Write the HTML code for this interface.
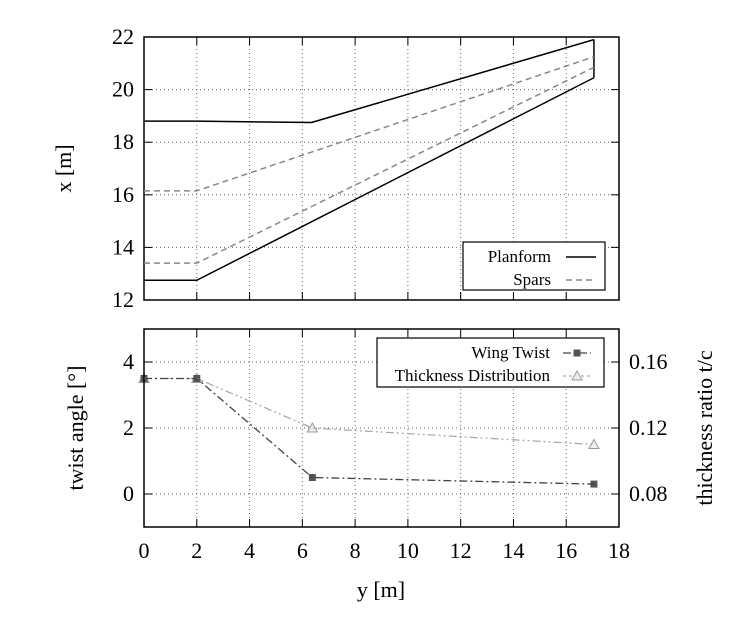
<!DOCTYPE html>
<html><head><meta charset="utf-8"><style>
body{margin:0;background:#fff;}
svg{display:block;font-family:"Liberation Serif",serif;}
</style></head><body>
<svg id="c" width="744" height="625" viewBox="0 0 744 625"></svg>
<script>
const xTicks=[0,2,4,6,8,10,12,14,16,18];
const topYTicks=[12,14,16,18,20,22];
const botYTicks=[0,2,4];
const rightTicks=[0.08,0.12,0.16];
const rightTickLabels=["0.08","0.12","0.16"];
const planformUpperY=[0,2,6.35,17.05];
const planformUpperX=[18.8,18.8,18.75,21.9];
const planformLowerY=[0,2,17.05];
const planformLowerX=[12.75,12.75,20.45];
const frontSparY=[0,2,17.05];
const frontSparX=[13.4,13.4,20.85];
const rearSparY=[0,2,17.05];
const rearSparX=[16.15,16.15,21.25];
const twistY=[0,2,6.38,17.05];
const twistVals=[3.5,3.5,0.5,0.3];
const thickY=[0,2,6.38,17.05];
const thickVals=[0.15,0.15,0.12,0.11];

const NS="http://www.w3.org/2000/svg";
const svg=document.getElementById('c');
const L=144,R=619;
const sx=v=>L+(v-0)/(18-0)*(R-L);
const T1=37,B1=300;
const sy1=v=>B1-(v-12)/(22-12)*(B1-T1);
const T2=329,B2=527;
const sy2=v=>B2-(v+1)/(5+1)*(B2-T2);
const syR=v=>sy2((v-0.08)/0.02);
function el(tag,attrs,parent){const e=document.createElementNS(NS,tag);for(const k in attrs)e.setAttribute(k,attrs[k]);(parent||svg).appendChild(e);return e;}
function txt(s,x,y,anchor,size,parent,rot){const t=el('text',{x:x,y:y,'text-anchor':anchor,'font-size':size,fill:'#000'},parent);if(rot)t.setAttribute('transform',rot);t.textContent=s;return t;}
function poly(xs,ys,fx,fy,style){return el('polyline',Object.assign({points:xs.map((v,i)=>fx(v)+','+fy(ys[i])).join(' '),fill:'none'},style));}

// top panel
const g1=el('g',{});


xTicks.forEach(v=>{if(v>0&&v<18)el('line',{x1:sx(v),x2:sx(v),y1:T1,y2:B1,stroke:'#666','stroke-dasharray':'1,3','stroke-width':1},g1);
 el('line',{x1:sx(v),x2:sx(v),y1:T1,y2:T1+8,stroke:'#000'},g1);el('line',{x1:sx(v),x2:sx(v),y1:B1,y2:B1-8,stroke:'#000'},g1);});
topYTicks.forEach(v=>{if(v>12&&v<22)el('line',{x1:L,x2:R,y1:sy1(v),y2:sy1(v),stroke:'#666','stroke-dasharray':'1,3'},g1);
 el('line',{x1:L,x2:L+8,y1:sy1(v),y2:sy1(v),stroke:'#000'},g1);el('line',{x1:R,x2:R-8,y1:sy1(v),y2:sy1(v),stroke:'#000'},g1);
 const t=txt(String(v),L-10,sy1(v)+7,'end',22,g1);});
const pu=poly(planformUpperY,planformUpperX,sx,sy1,{stroke:'#000','stroke-width':1.5});

const pl=poly(planformLowerY,planformLowerX,sx,sy1,{stroke:'#000','stroke-width':1.5});

const tip=el('line',{x1:sx(planformUpperY[3]),x2:sx(planformLowerY[2]),y1:sy1(planformUpperX[3]),y2:sy1(planformLowerX[2]),stroke:'#000','stroke-width':1.5});

const fs=poly(frontSparY,frontSparX,sx,sy1,{stroke:'#888','stroke-width':1.5,'stroke-dasharray':'6,4'});

const rs=poly(rearSparY,rearSparX,sx,sy1,{stroke:'#888','stroke-width':1.5,'stroke-dasharray':'6,4'});

el('rect',{x:L,y:T1,width:R-L,height:B1-T1,fill:'none',stroke:'#000','stroke-width':1.5},g1);
const lg1=el('g',{});
el('rect',{x:463,y:242,width:142,height:48,fill:'#fff',stroke:'#000','stroke-width':1.2},lg1);
txt('Planform',551,262,'end',17,lg1);txt('Spars',551,285,'end',17,lg1);
el('line',{x1:566,x2:596,y1:257,y2:257,stroke:'#000','stroke-width':1.5},lg1);
el('line',{x1:566,x2:596,y1:280,y2:280,stroke:'#888','stroke-width':1.5,'stroke-dasharray':'6,4'},lg1);
const yt1=txt('x [m]',71,(T1+B1)/2,'middle',22,svg,'rotate(-90 71 '+((T1+B1)/2)+')');


// bottom panel
const g2=el('g',{});


xTicks.forEach(v=>{if(v>0&&v<18)el('line',{x1:sx(v),x2:sx(v),y1:T2,y2:B2,stroke:'#666','stroke-dasharray':'1,3'},g2);
 el('line',{x1:sx(v),x2:sx(v),y1:T2,y2:T2+8,stroke:'#000'},g2);el('line',{x1:sx(v),x2:sx(v),y1:B2,y2:B2-8,stroke:'#000'},g2);
 const t=txt(String(v),sx(v),B2+31,'middle',22,g2);});
botYTicks.forEach(v=>{el('line',{x1:L,x2:R,y1:sy2(v),y2:sy2(v),stroke:'#666','stroke-dasharray':'1,3'},g2);
 el('line',{x1:L,x2:L+8,y1:sy2(v),y2:sy2(v),stroke:'#000'},g2);
 const t=txt(String(v),L-10,sy2(v)+7,'end',22,g2);});
rightTicks.forEach((v,i)=>{el('line',{x1:R,x2:R-8,y1:syR(v),y2:syR(v),stroke:'#000'},g2);
 const t=txt(rightTickLabels[i],R+10,syR(v)+7,'start',22,g2);});
const th=poly(thickY,thickVals,sx,syR,{stroke:'#aaa','stroke-width':1.3,'stroke-dasharray':'8,3,2,3,2,3'});

const tw=poly(twistY,twistVals,sx,sy2,{stroke:'#444','stroke-width':1.3,'stroke-dasharray':'8,3,2,3'});

thickY.forEach((v,i)=>{const x=sx(v),y=syR(thickVals[i]);
 const m=el('polygon',{points:`${x},${y-5} ${x-5},${y+4} ${x+5},${y+4}`,fill:'#eee',stroke:'#999','stroke-width':1},g2);
 });
twistY.forEach((v,i)=>{const x=sx(v),y=sy2(twistVals[i]);
 const m=el('rect',{x:x-3.5,y:y-3.5,width:7,height:7,fill:'#555'},g2);
 });
el('rect',{x:L,y:T2,width:R-L,height:B2-T2,fill:'none',stroke:'#000','stroke-width':1.5},g2);
const lg2=el('g',{});
el('rect',{x:377,y:338,width:227,height:49,fill:'#fff',stroke:'#000','stroke-width':1.2},lg2);
txt('Wing Twist',550,358,'end',17,lg2);txt('Thickness Distribution',550,381,'end',17,lg2);
el('line',{x1:563,x2:591,y1:353,y2:353,stroke:'#444','stroke-width':1.3,'stroke-dasharray':'8,3,2,3'},lg2);
el('rect',{x:573.5,y:349.5,width:7,height:7,fill:'#555'},lg2);
el('line',{x1:563,x2:591,y1:376,y2:376,stroke:'#aaa','stroke-width':1.3,'stroke-dasharray':'3,3'},lg2);
el('polygon',{points:'577,371 572,380 582,380',fill:'#eee',stroke:'#999'},lg2);
const yt2=txt('twist angle [°]',83,(T2+B2)/2,'middle',22,svg,'rotate(-90 83 '+((T2+B2)/2)+')');

const yt3=txt('thickness ratio t/c',712,(T2+B2)/2,'middle',22,svg,'rotate(-90 712 '+((T2+B2)/2)+')');

const xt=txt('y [m]',381,597,'middle',22,svg);

</script>
</body></html>
